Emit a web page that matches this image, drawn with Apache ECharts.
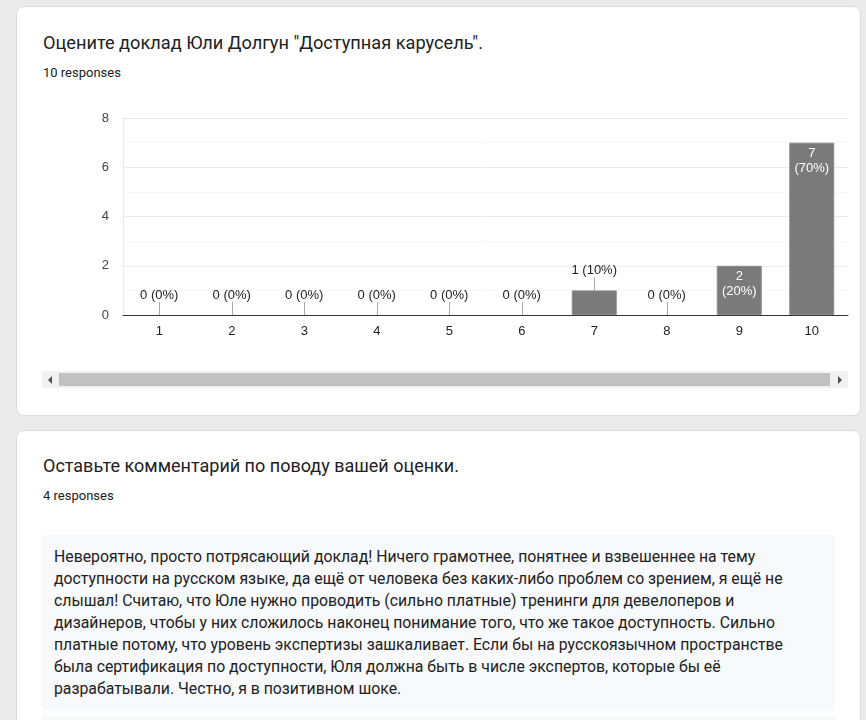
<!DOCTYPE html>
<html>
<head>
<meta charset="utf-8">
<script src="https://cdn.jsdelivr.net/npm/echarts@6/dist/echarts.min.js"></script>
<style>
  html, body { margin: 0; padding: 0; }
  body { width: 866px; height: 720px; background: #ebebeb; position: relative; overflow: hidden;
         font-family: Roboto, Arial, sans-serif; color: #202124; }
  .card { position: absolute; left: 16px; width: 843px; background: #fff; border: 1px solid #dadce0; border-radius: 8px; }
  .title { position: absolute; left: 26px; font-size: 18px; line-height: 24px; white-space: nowrap; }
  .sub { position: absolute; left: 26px; font-size: 13px; line-height: 16px; white-space: nowrap; }
  #chart { position: absolute; left: 40px; top: 100px; width: 810px; height: 250px; }
  .track { position: absolute; left: 42px; top: 371px; width: 806px; height: 17px; background: #f1f1f1; }
  .thumb { position: absolute; left: 17px; top: 2px; width: 771px; height: 13px; background: #c1c1c1; }
  .arr { position: absolute; top: 5px; width: 0; height: 0; border-top: 4px solid transparent; border-bottom: 4px solid transparent; }
  .arr.l { left: 6px; border-right: 4px solid #505050; }
  .arr.r { right: 6px; border-left: 4px solid #505050; }
  .box { position: absolute; left: 42px; width: 793px; background: #f8f9fa; border-radius: 4px; }
  .box p { margin: 0; padding: 11px 12px; font-size: 15.8px; line-height: 22px; white-space: nowrap; }
</style>
</head>
<body>
<div class="card" style="top:6px;height:408px;">
  <div class="title" style="top:24px;font-size:18.2px;">Оцените доклад Юли Долгун "Доступная карусель".</div>
  <div class="sub" style="top:58px;">10 responses</div>
</div>
<div id="chart"></div>
<div class="track"><div class="arr l"></div><div class="thumb"></div><div class="arr r"></div></div>

<div class="card" style="top:430px;height:320px;">
  <div class="title" style="top:23px;">Оставьте комментарий по поводу вашей оценки.</div>
  <div class="sub" style="top:57px;">4 responses</div>
</div>
<div class="box" style="top:535px;height:176px;">
  <p>Невероятно, просто потрясающий доклад! Ничего грамотнее, понятнее и взвешеннее на тему<br>доступности на русском языке, да ещё от человека без каких-либо проблем со зрением, я ещё не<br>слышал! Считаю, что Юле нужно проводить (сильно платные) тренинги для девелоперов и<br>дизайнеров, чтобы у них сложилось наконец понимание того, что же такое доступность. Сильно<br>платные потому, что уровень экспертизы зашкаливает. Если бы на русскоязычном пространстве<br>была сертификация по доступности, Юля должна быть в числе экспертов, которые бы её<br>разрабатывали. Честно, я в позитивном шоке.</p>
</div>
<div class="box" style="top:715px;height:40px;"></div>

<script>
// оценки и количество ответов
const categories = ['1', '2', '3', '4', '5', '6', '7', '8', '9', '10'];
const counts = [0, 0, 0, 0, 0, 0, 1, 0, 2, 7];
const yTicks = [0, 2, 4, 6, 8];

const total = counts.reduce((a, b) => a + b, 0);
const pct = v => Math.round(v / total * 100) + '%';
const fitsInside = v => v >= 2;

let chart = echarts.init(document.getElementById('chart'));
chart.setOption({
    animation: false,
    grid: { left: 83, right: 2, top: 18, bottom: 35 },
    xAxis: {
        type: 'category',
        data: categories,
        axisLine: { lineStyle: { color: '#333', width: 1 } },
        axisTick: { show: false },
        axisLabel: { color: '#222', fontFamily: 'Arial', fontSize: 13, margin: 10 }
    },
    yAxis: {
        type: 'value',
        min: yTicks[0],
        max: yTicks[yTicks.length - 1],
        interval: 2,
        axisLine: { show: true, lineStyle: { color: '#ebebeb' } },
        axisTick: { show: false },
        axisLabel: { color: '#444', fontFamily: 'Arial', fontSize: 13, margin: 14 },
        splitLine: { lineStyle: { color: '#ebebeb' } },
        minorTick: { show: false, splitNumber: 2 },
        minorSplitLine: { show: true, lineStyle: { color: '#f7f7f7' } }
    },
    series: [
        {
            type: 'bar',
            barWidth: 45,
            z: 3,
            itemStyle: { color: '#7a7a7a' },
            label: {
                position: 'insideTop',
                distance: 3,
                color: '#fff',
                fontFamily: 'Arial',
                fontSize: 13,
                lineHeight: 15,
                formatter: p => p.value + '\n(' + pct(p.value) + ')'
            },
            data: counts.map(v => ({
                value: v,
                label: { show: fitsInside(v) },
                itemStyle: { borderColor: '#8c8c8c', borderWidth: v > 0 ? 1 : 0 }
            }))
        },
        {
            // подписи над маленькими столбцами с засечкой
            type: 'custom',
            silent: true,
            data: counts.map((v, i) => [i, v]).filter(d => !fitsInside(d[1])),
            renderItem: (params, api) => {
                const v = api.value(1);
                const p = api.coord([api.value(0), v]);
                const x = Math.round(p[0]) + 0.5;
                return {
                    type: 'group',
                    children: [
                        { type: 'line', shape: { x1: x, y1: p[1], x2: x, y2: p[1] - 13 },
                          style: { stroke: '#a8a8a8', lineWidth: 1 } },
                        { type: 'text', x: p[0], y: p[1] - 20,
                          style: { text: v + ' (' + pct(v) + ')', fill: '#222', font: '13px Arial',
                                   align: 'center', verticalAlign: 'middle' } }
                    ]
                };
            }
        }
    ]
});
</script>
</body>
</html>
